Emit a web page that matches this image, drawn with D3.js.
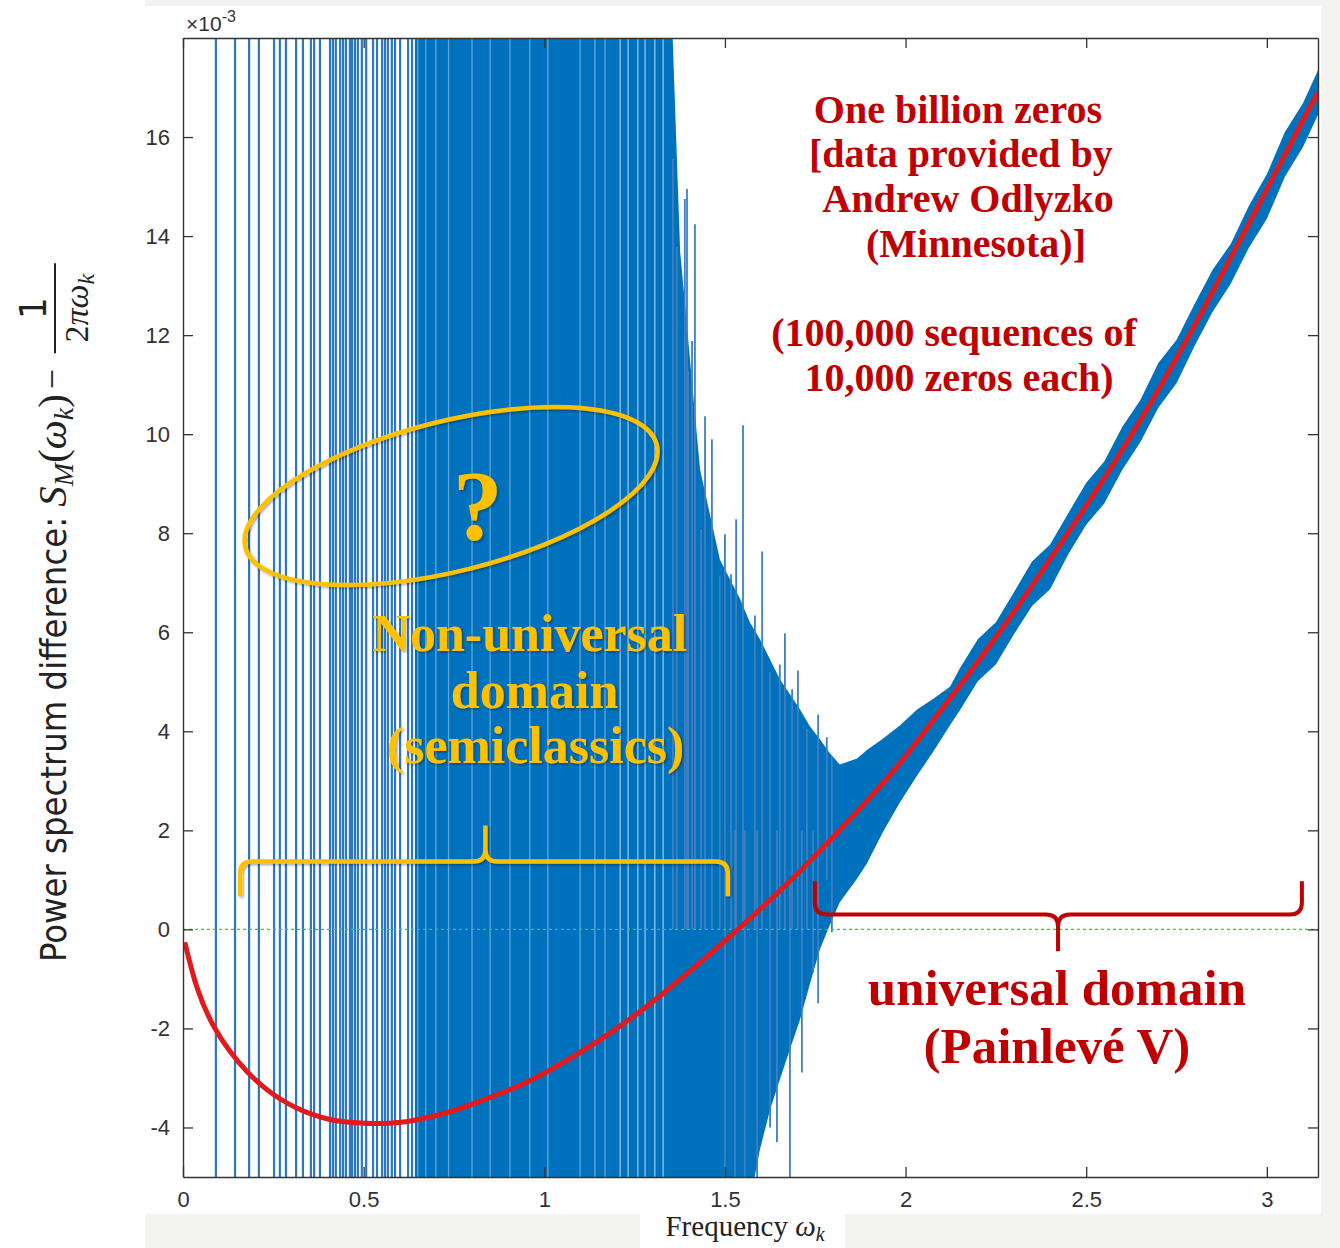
<!DOCTYPE html>
<html>
<head>
<meta charset="utf-8">
<script src="https://cdn.jsdelivr.net/npm/d3@7"></script>
<style>
  body { margin: 0; background: #fff; }
  svg { display: block; }
</style>
</head>
<body>
<div id="chart"></div>
<script>
// all values are in units of 1e-3 (the axis shows the x10^-3 factor)
var xTicks = [0, 0.5, 1, 1.5, 2, 2.5, 3];
var yTicks = [-4, -2, 0, 2, 4, 6, 8, 10, 12, 14, 16];

// full-height oscillations in the sparse low-frequency part
var spikeFreq = [0.091, 0.144, 0.183, 0.210, 0.252, 0.268, 0.285, 0.313, 0.332, 0.354,
  0.363, 0.379, 0.407, 0.415, 0.423, 0.435, 0.443, 0.451, 0.462, 0.468, 0.476, 0.484,
  0.495, 0.507, 0.526, 0.537, 0.551, 0.559, 0.567, 0.578, 0.587, 0.601, 0.623, 0.634];

// solid blue band of the data: lower / upper edge
var bandFreq = [0.642, 1.353, 1.376, 1.431, 1.486, 1.542, 1.569, 1.597, 1.625, 1.652,
  1.680, 1.708, 1.735, 1.763, 1.791, 1.818, 1.866, 1.893, 1.937, 1.985, 2.032, 2.076,
  2.123, 2.15, 2.2, 2.25, 2.3, 2.35, 2.4, 2.45, 2.5, 2.55, 2.6, 2.65, 2.7, 2.75,
  2.8, 2.85, 2.9, 2.95, 3.0, 3.05, 3.1, 3.1416];
var bandLo = [-5.5, -5.5, -5.5, -5.5, -5.5, -5.5, -5.5, -4.44, -3.64, -3.03,
  -2.42, -1.82, -1.11, -0.40, 0.10, 0.55, 1.03, 1.33, 1.96, 2.57, 3.11, 3.58,
  4.12, 4.42, 5.01, 5.35, 5.96, 6.53, 6.87, 7.57, 8.17, 8.60, 9.28, 9.84, 10.54, 11.03,
  11.78, 12.47, 13.04, 13.76, 14.35, 15.2, 15.8, 16.45];
var bandHi = [18.5, 18.5, 13.7, 9.29, 7.47, 6.67, 6.2, 5.86, 5.45, 5.05,
  4.75, 4.44, 4.1, 3.84, 3.55, 3.33, 3.45, 3.62, 3.85, 4.12, 4.44, 4.65,
  4.9, 5.27, 5.86, 6.2, 6.81, 7.43, 7.77, 8.4, 9.02, 9.45, 10.15, 10.69, 11.44, 11.9,
  12.63, 13.32, 13.84, 14.61, 15.25, 16.1, 16.68, 17.35];

// single spikes sticking out of the band
var tailFreq = [1.356, 1.367, 1.389, 1.395, 1.398, 1.409, 1.417, 1.434, 1.445, 1.464,
  1.486, 1.500, 1.517, 1.528, 1.531, 1.550, 1.555, 1.583, 1.589, 1.603, 1.625, 1.644,
  1.652, 1.666, 1.680, 1.686, 1.702, 1.713, 1.727, 1.744, 1.758, 1.782, 1.796];
var tailLo = [0, 0, 0, 0, 0, 0, 0, 0, 0, 0,
  0, -5.5, 0, -5.5, 0, 0, -5.5, 0, -5.5, 0, -4.0, -4.3,
  0, 0, -5.5, 0, 0, -2.89, 0, -0.87, -1.49, 1, -0.06];
var tailHi = [15.56, 13.78, 14.75, 14.95, 11.27, 11.88, 14.24, 8.08, 10.36, 9.9,
  7.13, 7.98, 7.17, 2, 8.28, 10.18, 2, 6.34, 2, 7.63, 5.2, 2,
  5.35, 5.98, 1, 4.85, 5.23, 2, 4.04, 2, 4.34, 3.88, 3.5];

// pale gaps inside the dense part
var gapFreq = [0.650, 0.672, 0.700, 0.735, 0.800, 0.850, 0.905, 0.960, 1.010, 1.099,
  1.140, 1.168, 1.210, 1.232, 1.259, 1.279, 1.306, 1.329];

// theory curve (red)
var theoryFreq = [0.005, 0.039, 0.083, 0.130, 0.177, 0.221, 0.268, 0.316, 0.360, 0.407,
  0.454, 0.526, 0.592, 0.637, 0.731, 0.822, 0.92, 1.016, 1.154, 1.293, 1.431, 1.536,
  1.708, 1.90, 2.0, 2.12, 2.26, 2.40, 2.54, 2.68, 2.815, 2.95, 3.09, 3.1416];
var theoryVal = [-0.26, -1.18, -1.93, -2.46, -2.87, -3.17, -3.42, -3.61, -3.74, -3.84,
  -3.89, -3.92, -3.90, -3.86, -3.70, -3.47, -3.19, -2.84, -2.23, -1.50, -0.67, 0.0,
  1.18, 2.65, 3.5, 4.63, 6.0, 7.47, 9.0, 10.65, 12.4, 14.25, 16.2, 16.9];

var W = 1340, H = 1248;
var blue = "#0072bd", gold = "#ffc000", darkRed = "#c00000";
var serif = "'Liberation Serif', 'Times New Roman', serif";
var sans = "'Liberation Sans', Arial, sans-serif";
var narrow = "'Liberation Sans Narrow', 'DejaVu Sans Condensed', 'Arial Narrow', sans-serif";

var svg = d3.select("#chart").append("svg").attr("width", W).attr("height", H);
var defs = svg.append("defs");
var sh = defs.append("filter").attr("id", "sh")
  .attr("x", "-10%").attr("y", "-10%").attr("width", "130%").attr("height", "140%");
sh.append("feDropShadow").attr("dx", 1.5).attr("dy", 1.5).attr("stdDeviation", 1.2)
  .attr("flood-color", "#000").attr("flood-opacity", 0.35);

// slide background around the figure
svg.append("rect").attr("width", W).attr("height", H).attr("fill", "#fff");
svg.append("rect").attr("x", 145).attr("y", 0).attr("width", W - 145).attr("height", 6).attr("fill", "#f3f3f1");
svg.append("rect").attr("x", 1321).attr("y", 0).attr("width", 19).attr("height", H).attr("fill", "#f3f3f1");
svg.append("rect").attr("x", 145).attr("y", 1214).attr("width", 495).attr("height", 34).attr("fill", "#f3f3f1");
svg.append("rect").attr("x", 845).attr("y", 1214).attr("width", 495).attr("height", 34).attr("fill", "#f3f3f1");

var x = d3.scaleLinear().domain([0, Math.PI]).range([183, 1318]);
var y = d3.scaleLinear().domain([-5, 18]).range([1177, 38]);

defs.append("clipPath").attr("id", "plot").append("rect")
  .attr("x", 183).attr("y", 38).attr("width", 1135).attr("height", 1139);
var g = svg.append("g").attr("clip-path", "url(#plot)");

// data band
var band = bandFreq.map(function(f, i) { return { f: f, lo: bandLo[i], hi: bandHi[i] }; });
g.append("path").datum(band)
  .attr("d", d3.area().x(function(d) { return x(d.f); })
    .y0(function(d) { return y(d.lo); }).y1(function(d) { return y(d.hi); }))
  .attr("fill", blue);

g.selectAll(".spike").data(spikeFreq).enter().append("line")
  .attr("x1", function(d) { return x(d); }).attr("x2", function(d) { return x(d); })
  .attr("y1", y(-5.5)).attr("y2", y(18.5))
  .attr("stroke", "#2a78c2").attr("stroke-width", 2.2);

g.selectAll(".gap").data(gapFreq).enter().append("line")
  .attr("x1", function(d) { return x(d); }).attr("x2", function(d) { return x(d); })
  .attr("y1", y(-5.5)).attr("y2", y(18.5))
  .attr("stroke", "#d6e8f6").attr("stroke-opacity", function(d) { return d < 1.2 ? 0.45 : 0.7; })
  .attr("stroke-width", 1.3);

g.selectAll(".tail").data(tailFreq).enter().append("line")
  .attr("x1", function(d) { return x(d); }).attr("x2", function(d) { return x(d); })
  .attr("y1", function(d, i) { return y(tailLo[i]); })
  .attr("y2", function(d, i) { return y(tailHi[i]); })
  .attr("stroke", "#3f7fbf").attr("stroke-width", 1.8);

// zero line
g.append("line").attr("x1", x(0)).attr("x2", x(Math.PI)).attr("y1", y(0)).attr("y2", y(0))
  .attr("stroke", "#33cc33").attr("stroke-width", 1.3).attr("stroke-dasharray", "3,3");

// theory
var theory = theoryFreq.map(function(f, i) { return [f, theoryVal[i]]; });
g.append("path").datum(theory)
  .attr("d", d3.line().curve(d3.curveNatural)
    .x(function(d) { return x(d[0]); }).y(function(d) { return y(d[1]); }))
  .attr("fill", "none").attr("stroke", "#e3191c").attr("stroke-width", 5);

// axes (box style, ticks inward)
function styleAxis(sel) {
  sel.select(".domain").attr("stroke", "#333").attr("stroke-width", 1.4);
  sel.selectAll(".tick line").attr("stroke", "#333").attr("stroke-width", 1.3);
  sel.selectAll(".tick text").attr("font-family", sans).attr("font-size", 22).attr("fill", "#333");
}
svg.append("g").attr("transform", "translate(0,1177)")
  .call(d3.axisBottom(x).tickValues(xTicks).tickSize(-10).tickSizeOuter(0).tickPadding(14)
    .tickFormat(function(d) { return String(d); }))
  .call(styleAxis);
svg.append("g").attr("transform", "translate(0,38)")
  .call(d3.axisTop(x).tickValues(xTicks).tickSize(-10).tickSizeOuter(0).tickFormat(""))
  .call(styleAxis);
svg.append("g").attr("transform", "translate(183,0)")
  .call(d3.axisLeft(y).tickValues(yTicks).tickSize(-10).tickSizeOuter(0).tickPadding(13)
    .tickFormat(function(d) { return String(d); }))
  .call(styleAxis);
svg.append("g").attr("transform", "translate(1318,0)")
  .call(d3.axisRight(y).tickValues(yTicks).tickSize(-10).tickSizeOuter(0).tickFormat(""))
  .call(styleAxis);

var exp = svg.append("text").attr("x", 186).attr("y", 31)
  .attr("font-family", sans).attr("font-size", 21).attr("fill", "#333");
exp.append("tspan").text("\u00d710");
exp.append("tspan").attr("dy", -9).attr("font-size", 16).text("-3");

// y label
var yl = svg.append("g").attr("transform", "translate(66,962) rotate(-90)");
var main = yl.append("text").attr("font-family", narrow).attr("font-size", 36).attr("fill", "#222");
main.append("tspan").text("Power spectrum difference: ");
main.append("tspan").attr("font-family", serif).attr("font-style", "italic").attr("font-size", 41).text("S");
main.append("tspan").attr("font-family", serif).attr("font-style", "italic").attr("font-size", 28).attr("dy", 7).text("M");
main.append("tspan").attr("font-family", serif).attr("font-size", 41).attr("dy", -7).text("(");
main.append("tspan").attr("font-family", serif).attr("font-style", "italic").attr("font-size", 41).text("\u03c9");
main.append("tspan").attr("font-family", serif).attr("font-style", "italic").attr("font-size", 28).attr("dy", 7).text("k");
main.append("tspan").attr("font-family", serif).attr("font-size", 41).attr("dy", -7).text(")");
var L = main.node().getComputedTextLength();
yl.append("text").attr("x", L + 5).attr("y", -2).attr("font-family", serif).attr("font-size", 36)
  .attr("fill", "#222").text("\u2212");
var fc = L + 86;
yl.append("line").attr("x1", fc - 45).attr("x2", fc + 45).attr("y1", -11).attr("y2", -11)
  .attr("stroke", "#222").attr("stroke-width", 2);
yl.append("text").attr("x", fc).attr("y", -20).attr("text-anchor", "middle")
  .attr("font-family", narrow).attr("font-size", 38).attr("fill", "#222").text("1");
var den = yl.append("text").attr("x", fc).attr("y", 22).attr("text-anchor", "middle")
  .attr("font-family", serif).attr("font-size", 34).attr("fill", "#222");
den.append("tspan").text("2");
den.append("tspan").attr("font-style", "italic").text("\u03c0\u03c9");
den.append("tspan").attr("font-style", "italic").attr("font-size", 24).attr("dy", 6).text("k");

// x label
var xl = svg.append("text").attr("x", 745).attr("y", 1236).attr("text-anchor", "middle")
  .attr("font-family", serif).attr("font-size", 29).attr("fill", "#222");
xl.append("tspan").text("Frequency ");
xl.append("tspan").attr("font-style", "italic").text("\u03c9");
xl.append("tspan").attr("font-style", "italic").attr("font-size", 20).attr("dy", 5).text("k");

// annotations
var ann = svg.append("g").attr("font-family", serif).attr("font-weight", "bold").attr("text-anchor", "middle");
var redNote = [
  ["One billion zeros", 2.145, 16.28],
  ["[data provided by", 2.153, 15.39],
  ["Andrew Odlyzko", 2.173, 14.48],
  ["(Minnesota)]", 2.195, 13.58],
  ["(100,000 sequences of", 2.134, 11.78],
  ["10,000 zeros each)", 2.148, 10.87]
];
redNote.forEach(function(r) {
  ann.append("text").attr("x", x(r[1])).attr("y", y(r[2])).attr("font-size", 40)
    .attr("fill", darkRed).text(r[0]);
});
ann.append("text").attr("x", x(2.419)).attr("y", y(-1.52)).attr("font-size", 51)
  .attr("fill", darkRed).text("universal domain");
ann.append("text").attr("x", x(2.419)).attr("y", y(-2.69)).attr("font-size", 51)
  .attr("fill", darkRed).text("(Painlev\u00e9 V)");

var goldG = ann.append("g").attr("filter", "url(#sh)");
[["Non-universal", 0.960, 5.62], ["domain", 0.973, 4.48], ["(semiclassics)", 0.976, 3.35]].forEach(function(r) {
  goldG.append("text").attr("x", x(r[1])).attr("y", y(r[2])).attr("font-size", 52)
    .attr("fill", gold).text(r[0]);
});
goldG.append("text").attr("x", x(0.816)).attr("y", y(7.88)).attr("font-size", 100)
  .attr("fill", gold).text("?");
goldG.append("ellipse").attr("cx", x(0.742)).attr("cy", y(8.75)).attr("rx", 212).attr("ry", 75)
  .attr("transform", "rotate(-14," + x(0.742) + "," + y(8.75) + ")")
  .attr("fill", "none").attr("stroke", gold).attr("stroke-width", 4.5);

// curly brace: ends bend towards vEnd, middle tip points to vTip
function brace(f0, f1, fm, vLine, vEnd, vTip) {
  var x0 = x(f0), x1 = x(f1), xm = x(fm), yl = y(vLine), ye = y(vEnd), yt = y(vTip);
  var r = 12, s = yt < yl ? -1 : 1, e = ye < yl ? -1 : 1;
  return "M" + x0 + "," + ye +
    " L" + x0 + "," + (yl + e * r) + " Q" + x0 + "," + yl + " " + (x0 + r) + "," + yl +
    " L" + (xm - r) + "," + yl + " Q" + xm + "," + yl + " " + xm + "," + (yl + s * r) +
    " L" + xm + "," + yt + " M" + xm + "," + (yl + s * r) +
    " Q" + xm + "," + yl + " " + (xm + r) + "," + yl +
    " L" + (x1 - r) + "," + yl + " Q" + x1 + "," + yl + " " + x1 + "," + (yl + e * r) +
    " L" + x1 + "," + ye;
}
goldG.append("path").attr("d", brace(0.158, 1.508, 0.837, 1.37, 0.67, 2.1))
  .attr("fill", "none").attr("stroke", gold).attr("stroke-width", 4.5);
ann.append("path").attr("d", brace(1.749, 3.097, 2.422, 0.30, 0.97, -0.44))
  .attr("fill", "none").attr("stroke", darkRed).attr("stroke-width", 4);
</script>
</body>
</html>
